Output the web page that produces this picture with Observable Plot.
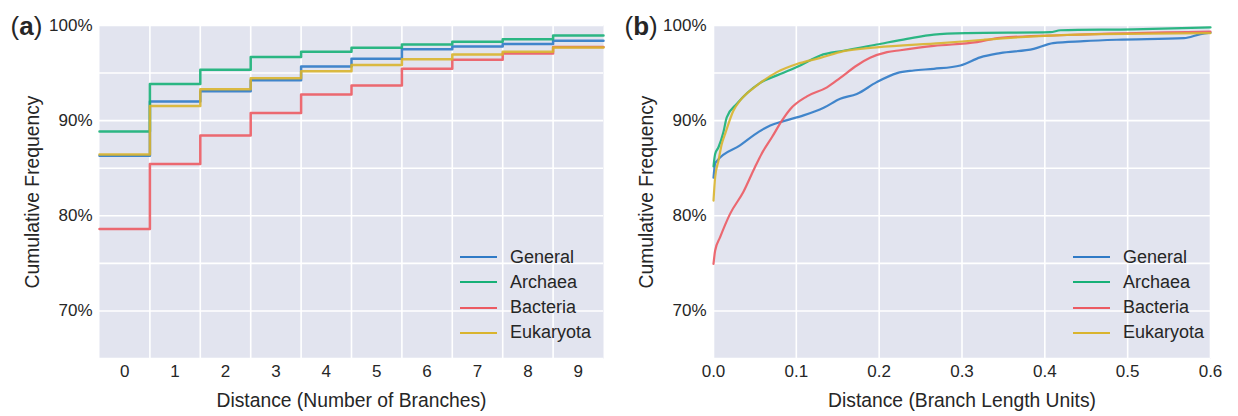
<!DOCTYPE html>
<html>
<head>
<meta charset="utf-8">
<script src="https://cdn.jsdelivr.net/npm/d3@7"></script>
<script src="https://cdn.jsdelivr.net/npm/@observablehq/plot@0.6"></script>
<style>
  html, body { margin: 0; padding: 0; background: #fff; }
  #wrap { position: relative; width: 1238px; height: 416px; overflow: hidden; font-family: "Liberation Sans", Arial, sans-serif; color: #262626; }
  .panel { position: absolute; top: 0; }
  .legend { position: absolute; font-size: 18px; color: #262626; }
  .legend .row { position: absolute; left: 0; height: 22px; display: flex; align-items: center; white-space: nowrap; }
  .legend .sw { width: 37px; height: 0; border-top: 2.5px solid; margin-right: 13px; }
</style>
</head>
<body>
<div id="wrap"></div>
<script>
// ---------- data ----------
const seriesNames = ["General", "Archaea", "Bacteria", "Eukaryota"];
const seriesColors = ["#2f7ac6", "#17b077", "#ec5a62", "#d9b42e"];

// Panel (a): cumulative frequency (%) by distance in number of branches
const branchCats = [0, 1, 2, 3, 4, 5, 6, 7, 8, 9];
const generalA   = [86.3, 92.0, 93.1, 94.25, 95.7, 96.5, 97.5, 97.8, 98.05, 98.4];
const archaeaA   = [88.85, 93.85, 95.35, 96.7, 97.25, 97.65, 98.0, 98.3, 98.55, 98.95];
const bacteriaA  = [78.6, 85.45, 88.45, 90.8, 92.75, 93.7, 95.45, 96.4, 97.05, 97.75];
const eukaryotaA = [86.45, 91.55, 93.3, 94.45, 95.2, 95.85, 96.45, 96.95, 97.25, 97.7];

// Panel (b): cumulative frequency (%) by distance in branch length units
const generalBx = [0, 0.002, 0.004, 0.032, 0.055, 0.0685, 0.0846, 0.1087, 0.133, 0.153, 0.173, 0.197, 0.2216, 0.2416, 0.266, 0.298, 0.322, 0.346, 0.3866, 0.41, 0.447, 0.487, 0.568, 0.588, 0.6];
const generalBy = [84.0, 85.5, 85.75, 87.4, 88.85, 89.5, 89.95, 90.55, 91.35, 92.3, 92.8, 94.05, 95.0, 95.27, 95.45, 95.8, 96.65, 97.1, 97.55, 98.15, 98.35, 98.5, 98.67, 99.1, 99.25];
const archaeaBx = [0, 0.002, 0.006, 0.012, 0.016, 0.028, 0.056, 0.0806, 0.1047, 0.1289, 0.157, 0.197, 0.2336, 0.266, 0.306, 0.4066, 0.419, 0.507, 0.6];
const archaeaBy = [85.2, 86.5, 87.2, 88.8, 90.35, 91.75, 93.95, 94.9, 95.8, 96.85, 97.35, 98.0, 98.6, 99.05, 99.2, 99.3, 99.5, 99.6, 99.8];
const bacteriaBx = [0, 0.002, 0.008, 0.02, 0.036, 0.05, 0.058, 0.0705, 0.0826, 0.0926, 0.1128, 0.137, 0.153, 0.173, 0.189, 0.2095, 0.2255, 0.266, 0.318, 0.346, 0.427, 0.6];
const bacteriaBy = [74.95, 76.35, 77.75, 80.2, 82.5, 85.1, 86.5, 88.25, 90.0, 91.2, 92.55, 93.5, 94.5, 95.8, 96.6, 97.2, 97.4, 97.85, 98.25, 98.7, 99.0, 99.35];
const eukaryotaBx = [0, 0.002, 0.006, 0.01, 0.014, 0.024, 0.032, 0.0524, 0.0766, 0.1007, 0.129, 0.157, 0.197, 0.2746, 0.326, 0.3866, 0.467, 0.6];
const eukaryotaBy = [81.6, 84.05, 85.8, 87.55, 88.6, 91.05, 92.1, 93.7, 95.1, 95.95, 96.6, 97.3, 97.7, 98.15, 98.5, 98.85, 99.1, 99.2];

const yTicks = [70, 80, 90, 100];
const yGrid = [65, 70, 75, 80, 85, 90, 95, 100];
const bTicks = [0, 0.1, 0.2, 0.3, 0.4, 0.5, 0.6];

// ---------- helpers ----------
const BG = "#e2e4ef";
const FONT = '"Liberation Sans", Arial, sans-serif';

function stepRows(name, vals) {
  const rows = branchCats.map((c, i) => ({series: name, x: c - 0.5, y: vals[i]}));
  rows.push({series: name, x: branchCats[branchCats.length - 1] + 0.5, y: vals[vals.length - 1]});
  return rows;
}
function curveRows(name, xs, ys) {
  return xs.map((x, i) => ({series: name, x, y: ys[i]}));
}
function boldPanelLabel(svg, letter) {
  d3.select(svg).selectAll(".panel-label text").each(function () {
    const t = d3.select(this);
    t.text("");
    t.append("tspan").text("(");
    t.append("tspan").attr("font-weight", "bold").text(letter);
    t.append("tspan").text(")");
  });
}
function legend(left, top) {
  const div = document.createElement("div");
  div.className = "legend";
  div.style.left = left + "px";
  div.style.top = top + "px";
  seriesNames.forEach((n, i) => {
    const r = document.createElement("div");
    r.className = "row";
    r.style.top = (i * 25.3) + "px";
    const sw = document.createElement("span");
    sw.className = "sw";
    sw.style.borderTopColor = seriesColors[i];
    const tx = document.createElement("span");
    tx.textContent = n;
    r.appendChild(sw); r.appendChild(tx);
    div.appendChild(r);
  });
  return div;
}

const colorScale = {domain: seriesNames, range: seriesColors};

function decorations(xTitle, letter) {
  return [
    Plot.text([xTitle], {frameAnchor: "bottom", dy: 42, lineAnchor: "middle", fontSize: 19.3, fill: "#262626"}),
    Plot.text(["Cumulative Frequency"], {frameAnchor: "left", dx: -67, rotate: -90, textAnchor: "middle", lineAnchor: "middle", fontSize: 19.3, fill: "#262626"}),
    Plot.text(["(" + letter + ")"], {frameAnchor: "top-left", dx: -89, dy: 1, textAnchor: "start", lineAnchor: "middle", fontSize: 26, fill: "#262626", className: "panel-label"})
  ];
}

// ---------- panel (a) ----------
const dataA = [
  ...stepRows("General", generalA),
  ...stepRows("Archaea", archaeaA),
  ...stepRows("Bacteria", bacteriaA),
  ...stepRows("Eukaryota", eukaryotaA)
];
const gridXA = branchCats.slice(0, -1).map(c => c + 0.5);

const chartA = Plot.plot({
  width: 615, height: 416,
  marginLeft: 99, marginRight: 12, marginTop: 25, marginBottom: 58,
  style: {fontFamily: FONT, fontSize: "17px", color: "#262626", background: "transparent"},
  x: {domain: [-0.5, 9.5]},
  y: {domain: [65, 100]},
  color: colorScale,
  marks: [
    Plot.frame({fill: BG, stroke: null}),
    Plot.ruleY(yGrid, {stroke: "#fff", strokeWidth: 1.6}),
    Plot.ruleX(gridXA, {stroke: "#fff", strokeWidth: 1.6}),
    Plot.axisX(branchCats, {tickSize: 0, tickPadding: 6, label: null, fontSize: 17}),
    Plot.axisY(yTicks, {tickSize: 0, tickPadding: 7, label: null, tickFormat: d => d + "%", fontSize: 17}),
    Plot.line(dataA, {x: "x", y: "y", z: "series", stroke: "series", curve: "step-after", strokeWidth: 2.5, strokeOpacity: 0.9}),
    ...decorations("Distance (Number of Branches)", "a")
  ]
});
boldPanelLabel(chartA, "a");

// ---------- panel (b) ----------
const dataB = [
  ...curveRows("General", generalBx, generalBy),
  ...curveRows("Archaea", archaeaBx, archaeaBy),
  ...curveRows("Bacteria", bacteriaBx, bacteriaBy),
  ...curveRows("Eukaryota", eukaryotaBx, eukaryotaBy)
];

const chartB = Plot.plot({
  width: 623, height: 416,
  marginLeft: 98, marginRight: 28, marginTop: 25, marginBottom: 58,
  style: {fontFamily: FONT, fontSize: "17px", color: "#262626", background: "transparent"},
  x: {domain: [0, 0.6]},
  y: {domain: [65, 100]},
  color: colorScale,
  marks: [
    Plot.frame({fill: BG, stroke: null}),
    Plot.ruleY(yGrid, {stroke: "#fff", strokeWidth: 1.6}),
    Plot.ruleX(bTicks, {stroke: "#fff", strokeWidth: 1.6}),
    Plot.axisX(bTicks, {tickSize: 0, tickPadding: 6, label: null, tickFormat: d3.format(".1f"), fontSize: 17}),
    Plot.axisY(yTicks, {tickSize: 0, tickPadding: 7, label: null, tickFormat: d => d + "%", fontSize: 17}),
    Plot.line(dataB, {x: "x", y: "y", z: "series", stroke: "series", curve: "monotone-x", strokeWidth: 2.2, strokeOpacity: 0.9}),
    ...decorations("Distance (Branch Length Units)", "b")
  ]
});
boldPanelLabel(chartB, "b");

// ---------- layout ----------
const wrap = document.getElementById("wrap");
const pa = document.createElement("div"); pa.className = "panel"; pa.style.left = "0px"; pa.appendChild(chartA);
const pb = document.createElement("div"); pb.className = "panel"; pb.style.left = "615px"; pb.appendChild(chartB);
wrap.appendChild(pa); wrap.appendChild(pb);
wrap.appendChild(legend(460, 246));
wrap.appendChild(legend(1073, 246));
</script>
</body>
</html>
